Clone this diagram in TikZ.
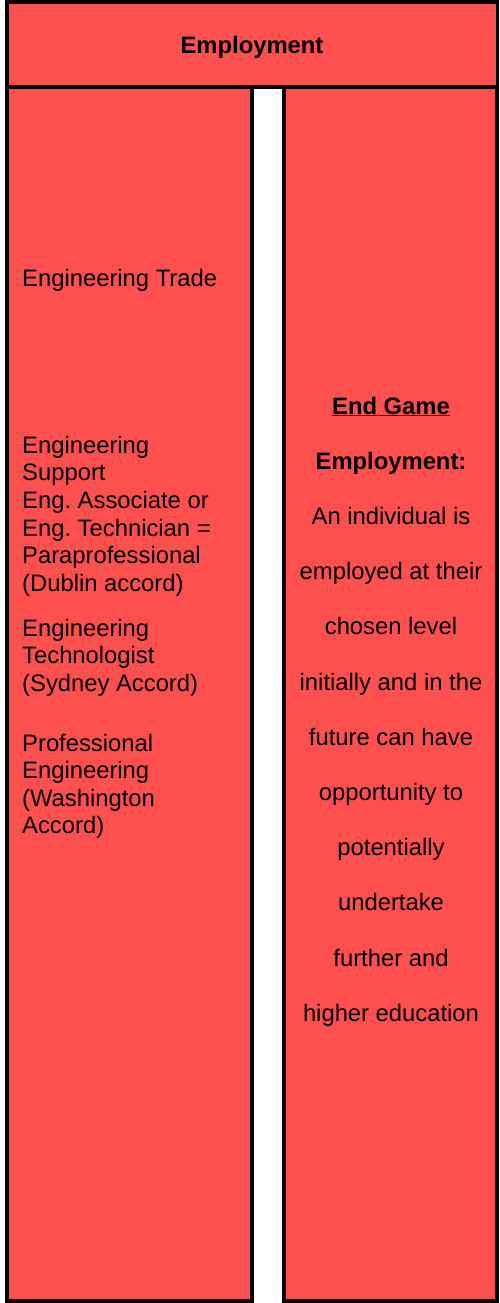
\documentclass[tikz,border=0pt]{standalone}
\usepackage{fontspec}
\setmainfont{Liberation Sans}
\frenchspacing
\definecolor{boxred}{HTML}{FF5050}
\begin{document}
\begin{tikzpicture}[x=1pt,y=-1pt,
  panel/.style={draw=black, line width=3.5pt, fill=boxred, inner sep=0pt},
  txt/.style={inner sep=0pt, font=\fontsize{23.8}{27.6}\selectfont\frenchspacing},
  rtxt/.style={inner sep=0pt, align=center, font=\fontsize{23.8}{55.2}\selectfont\frenchspacing}]
\useasboundingbox (0,0) rectangle (499,1303);
\node[panel, minimum width=245.25pt, minimum height=1214.25pt] (left) at (129.4,694.1) {};
\node[panel, minimum width=213.25pt, minimum height=1214.25pt] (right) at (390.6,694.1) {};
\node[panel, minimum width=490.5pt, minimum height=85.25pt] (head) at (252,44.4) {};
\node[txt, anchor=base] (headtxt) at (252,53.3) {\bfseries Employment};
\node[txt, anchor=base west] (trade) at (22,286) {Engineering Trade};
% multi-line nodes: base anchor = baseline of the last line
\node[txt, anchor=base west, align=left] (support) at (22,591.3) {Engineering\\Support\\Eng. Associate or\\Eng. Technician =\\Paraprofessional\\(Dublin accord)};
\node[txt, anchor=base west, align=left] (techno) at (22,691.2) {Engineering\\Technologist\\(Sydney Accord)};
\node[txt, anchor=base west, align=left] (prof) at (22,833.8) {Professional\\Engineering\\(Washington\\Accord)};
\node[rtxt, anchor=base] (endgame) at (391,1021.2) {\textbf{\underline{End Game}}\\\textbf{Employment:}\\An individual is\\employed at their\\chosen level\\initially and in the\\future can have\\opportunity to\\potentially\\undertake\\further and\\higher education};
\end{tikzpicture}
\end{document}
